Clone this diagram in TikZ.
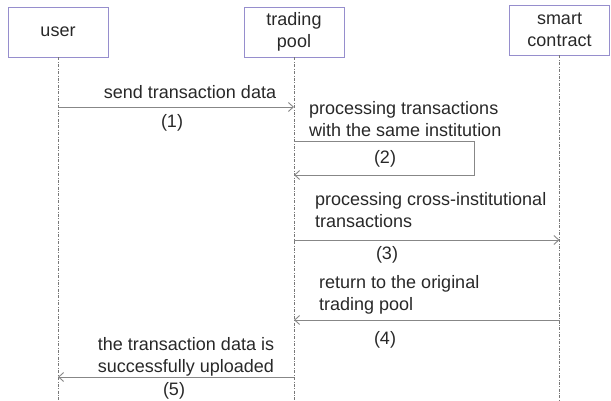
\documentclass[tikz,border=0pt]{standalone}
\usepackage{fontspec}
\setmainfont{Liberation Sans}
\usetikzlibrary{arrows.meta}
\definecolor{boxline}{RGB}{150,142,205}
\definecolor{msgline}{RGB}{135,135,135}
\definecolor{lifegray}{RGB}{120,120,120}
\definecolor{txt}{RGB}{40,40,40}
\begin{document}
\begin{tikzpicture}[x=1pt,y=-1pt,
  every node/.style={font=\fontsize{18}{22}\selectfont, text=txt, inner sep=0pt},
  actor/.style={draw=boxline, line width=0.9pt, minimum width=100pt, minimum height=50pt, align=center},
  lifeline/.style={draw=lifegray, line width=0.6pt, dash pattern=on 3pt off 1.5pt on 0.8pt off 1.5pt},
  msg/.style={draw=msgline, line width=0.9pt, -{Straight Barb[length=5pt,width=9pt]}},
  lbl/.style={anchor=base, align=center},
  note/.style={anchor=base west, align=left}]
\useasboundingbox (0,0) rectangle (611,401);

% participants
\node[actor] (user)  at (58,32) {user};
\node[actor] (pool)  at (294,32) {trading\\pool};
\node[actor] (smart) at (559.5,30) {smart\\contract};

% lifelines
\coordinate (userEnd)  at (58,400);
\coordinate (poolEnd)  at (294,400);
\coordinate (smartEnd) at (559.5,400);
\draw[lifeline] (user.south) -- (userEnd);
\draw[lifeline] (pool.south) -- (poolEnd);
\draw[lifeline] (smart.south) -- (smartEnd);

% message anchor points on the lifelines
\coordinate (u1) at (58,107);   \coordinate (p1) at (294,107);
\coordinate (p2a) at (294,141); \coordinate (p2b) at (294,175);
\coordinate (p3) at (294,240);  \coordinate (s3) at (559.5,240);
\coordinate (s4) at (559.5,320);\coordinate (p4) at (294,320);
\coordinate (p5) at (294,377);  \coordinate (u5) at (58,377);

% (1) user -> trading pool
\draw[msg] (u1) -- (p1);
\node[lbl] (m1) at (190,99) {send transaction data};
\node[lbl] (n1) at (172,128) {(1)};

% (2) self message (multi-line notes sit on the baseline of their last line)
\draw[msg] (p2a) -- ++(180,0) |- (p2b);
\node[note] (m2) at (309,137) {processing transactions\\with the same institution};
\node[lbl] (n2) at (385,164) {(2)};

% (3) trading pool -> smart contract
\draw[msg] (p3) -- (s3);
\node[note] (m3) at (315,228) {processing cross-institutional\\transactions};
\node[lbl] (n3) at (387,259) {(3)};

% (4) smart contract -> trading pool
\draw[msg] (s4) -- (p4);
\node[note] (m4) at (319,310) {return to the original\\trading pool};
\node[lbl] (n4) at (385,344) {(4)};

% (5) trading pool -> user
\draw[msg] (p5) -- (u5);
\node[lbl] (m5) at (186,372) {the transaction data is\\successfully uploaded};
\node[lbl] (n5) at (174,395) {(5)};
\end{tikzpicture}
\end{document}
